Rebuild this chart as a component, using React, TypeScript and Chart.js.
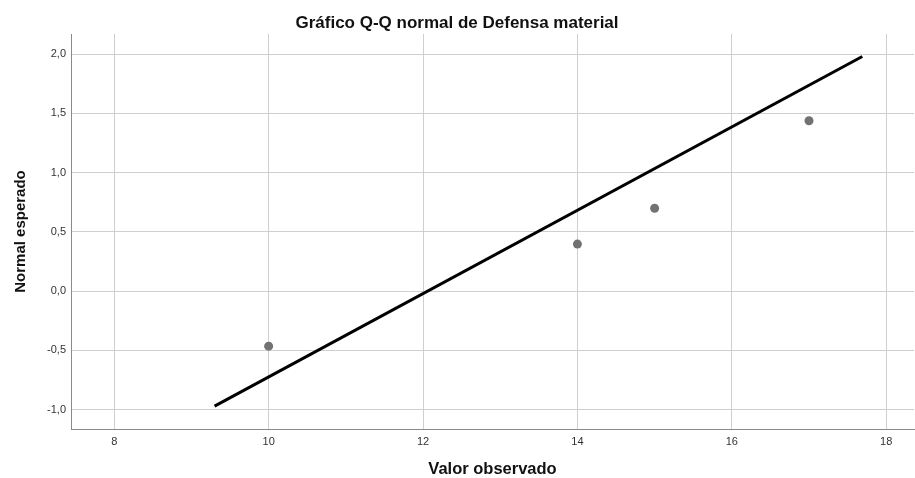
import React, { useEffect, useRef } from "react";
import { Chart, registerables } from "chart.js";

Chart.register(...registerables);

const chartTitle = "Gráfico Q-Q normal de Defensa material";
const xAxisTitle = "Valor observado";
const yAxisTitle = "Normal esperado";

const observedValues = [10, 14, 15, 17];
const expectedNormal = [-0.464, 0.397, 0.7, 1.438];

const lineX = [9.3, 17.69];
const lineY = [-0.97, 1.98];

const xTicks = [8, 10, 12, 14, 16, 18];
const yTicks = [-1.0, -0.5, 0.0, 0.5, 1.0, 1.5, 2.0];

const xMin = 7.44;
const xMax = 18.36;
const yMin = -1.163;
const yMax = 2.17;

export default function App() {
  const canvasRef = useRef<HTMLCanvasElement | null>(null);

  useEffect(() => {
    const canvas = canvasRef.current;
    if (!canvas) return;
    Chart.defaults.font.family = 'Arial, "Liberation Sans", sans-serif';

    const chart = new Chart(canvas, {
      type: "scatter",
      data: {
        datasets: [
          {
            type: "line",
            label: "Línea",
            data: lineX.map((x, i) => ({ x, y: lineY[i] })),
            borderColor: "#000000",
            borderWidth: 3,
            pointRadius: 0,
            fill: false,
            order: 0,
          } as any,
          {
            type: "scatter",
            label: "Observado",
            data: observedValues.map((x, i) => ({ x, y: expectedNormal[i] })),
            backgroundColor: "#727272",
            borderWidth: 0,
            pointRadius: 4.5,
            hoverRadius: 4.5,
            order: 1,
          },
        ],
      },
      options: {
        responsive: false,
        animation: false,
        layout: { autoPadding: false, padding: { left: 0, right: 1, top: 0, bottom: 0 } },
        plugins: {
          legend: { display: false },
          tooltip: { enabled: false },
          title: {
            display: true,
            text: chartTitle,
            color: "#111111",
            font: { size: 17, weight: "bold" },
            padding: { top: 13, bottom: 0.6 },
          },
        },
        scales: {
          x: {
            type: "linear",
            min: xMin,
            max: xMax,
            afterBuildTicks: (scale: any) => {
              scale.ticks = xTicks.map((v) => ({ value: v }));
            },
            afterFit: (scale: any) => {
              scale.height = 49;
              scale.paddingRight = 0;
              scale.paddingLeft = 0;
            },
            grid: { color: "#cfcfcf", lineWidth: 1, drawTicks: false },
            border: { color: "#8a8a8a", width: 1 },
            ticks: {
              color: "#333333",
              font: { size: 11 },
              padding: 6,
              maxRotation: 0,
              callback: (v: any) => String(v),
            },
            title: {
              display: true,
              text: xAxisTitle,
              color: "#111111",
              font: { size: 16.5, weight: "bold" },
              padding: { top: 0, bottom: -1 },
            },
          },
          y: {
            type: "linear",
            min: yMin,
            max: yMax,
            afterBuildTicks: (scale: any) => {
              scale.ticks = yTicks.map((v) => ({ value: v }));
            },
            afterFit: (scale: any) => {
              scale.width = 71;
            },
            grid: { color: "#cfcfcf", lineWidth: 1, drawTicks: false },
            border: { color: "#8a8a8a", width: 1 },
            ticks: {
              color: "#333333",
              font: { size: 11 },
              padding: 5,
              callback: (v: any) => Number(v).toFixed(1).replace(".", ","),
            },
            title: {
              display: true,
              text: yAxisTitle,
              color: "#111111",
              font: { size: 15, weight: "bold" },
              padding: { top: 12, bottom: 0 },
            },
          },
        },
      },
    });
    return () => chart.destroy();
  }, []);

  return (
    <div style={{ position: "fixed", left: 0, top: 0, width: 915, height: 478, background: "#ffffff" }}>
      <canvas ref={canvasRef} width={915} height={478} />
    </div>
  );
}
